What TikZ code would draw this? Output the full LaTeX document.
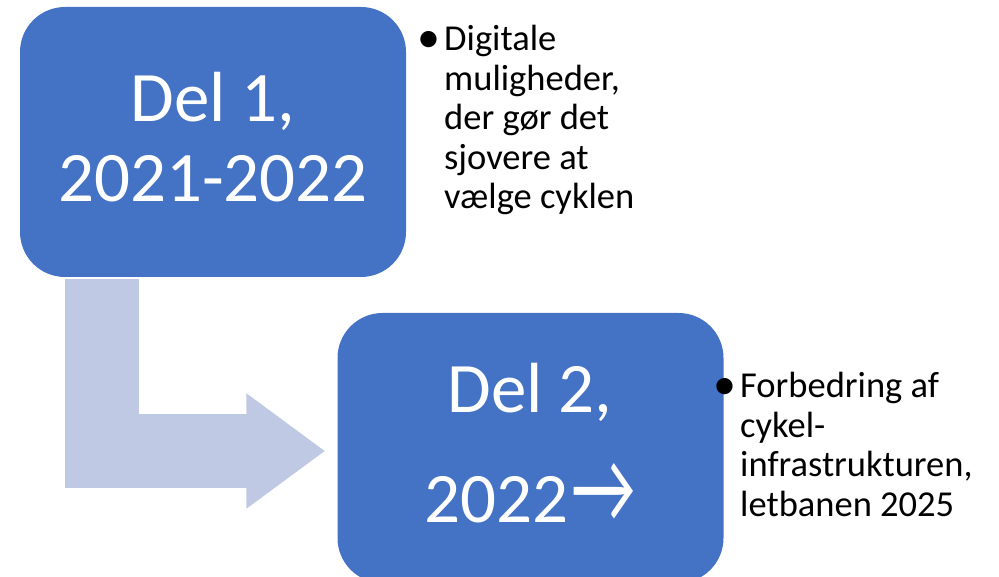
\documentclass[tikz,border=0pt]{standalone}
\usepackage{fontspec}
\setmainfont{Carlito}
\usepackage{tikz}
\usetikzlibrary{arrows.meta, positioning, calc}
\definecolor{phasecolor}{RGB}{68, 114, 196}
\definecolor{flowcolor}{RGB}{191, 201, 228}
\newcommand{\bigbullet}{\llap{\raisebox{-1.5pt}{\fontsize{46}{40}\selectfont•}\hspace{3.5pt}}}

\begin{document}
\begin{tikzpicture}[
    x=1pt, y=-1pt,
    phase/.style={fill=phasecolor, draw=none, rounded corners=45pt, minimum width=386pt, minimum height=270pt, inner sep=0pt},
    phasetext/.style={text=white, align=center, anchor=base, inner sep=0pt},
    bullettext/.style={font=\fontsize{36.5}{39.5}\selectfont, align=left, anchor=base west, inner sep=0pt},
]
    \clip (0,0) rectangle (999,577);

    % Phases
    \node[phase] (one) at (213, 142) {};
    \node[phase] (two) at (530.5, 448) {};

    % Bent arrow from part 1 to part 2
    \draw[flowcolor, line width=74pt, -{Triangle[length=79pt 0, width=110pt 0]}]
        ($(one.south west)+(82,2)$) |- ($(two.west)+(-12,3)$);

    % Phase texts (anchor base = last line)
    \node[phasetext, font=\fontsize{71}{80}\selectfont] (onetitle) at (213, 202) {Del 1,\\2021-2022};
    \node[phasetext, font=\fontsize{71}{110}\selectfont] (twotitle) at (530, 522) {Del 2,\\2022\kern3pt\scalebox{1}[1.45]{→}};

    % Bullets
    \node[bullettext] (onenote) at (444, 209) {\bigbullet Digitale\\muligheder,\\der gør det\\sjovere at\\vælge cyklen};
    \node[bullettext] (twonote) at (740, 516) {\bigbullet Forbedring af\\cykel-\\infrastrukturen,\\letbanen 2025};
\end{tikzpicture}
\end{document}
